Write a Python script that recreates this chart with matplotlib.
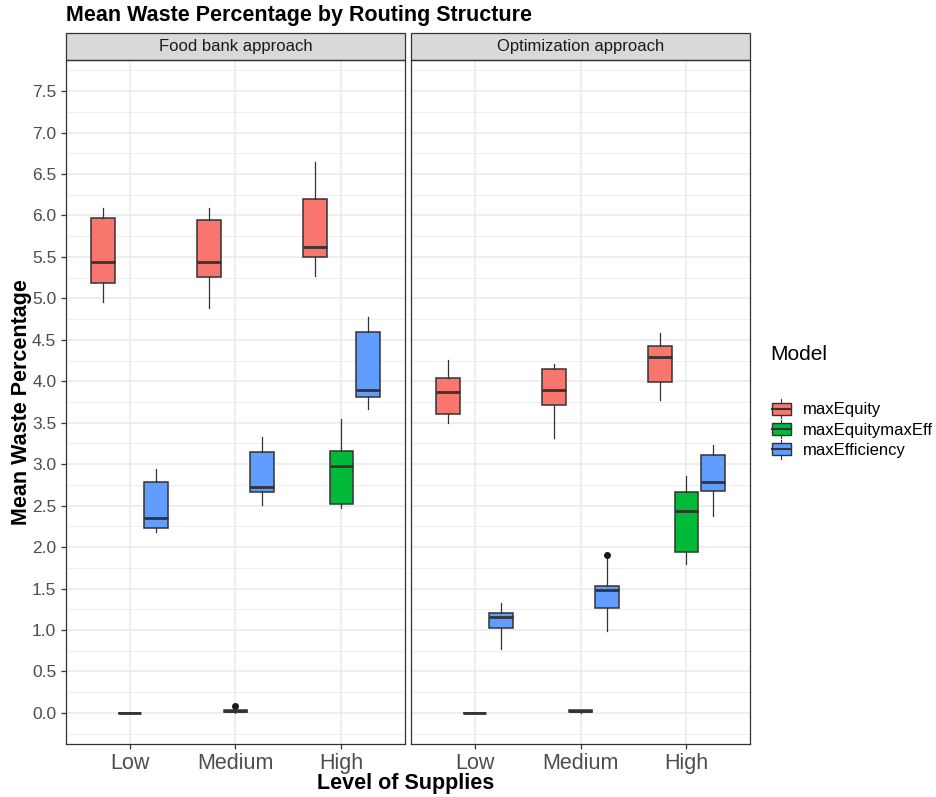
import matplotlib
matplotlib.use("Agg")
import matplotlib.pyplot as plt
import numpy as np
from matplotlib.patches import Rectangle
from matplotlib.lines import Line2D
from matplotlib.legend_handler import HandlerBase

plt.rcParams['font.family'] = ['Liberation Sans', 'DejaVu Sans']

levels = ["Low", "Medium", "High"]
models = ["maxEquity", "maxEquitymaxEff", "maxEfficiency"]
panels = ["Food bank approach", "Optimization approach"]
colors = ["#F8766D", "#00BA38", "#619CFF"]

# box stats per level (Low, Medium, High): whislo, q1, med, q3, whishi
fb_equity = [(4.96, 5.19, 5.44, 5.97, 6.09),
             (4.88, 5.26, 5.44, 5.95, 6.09),
             (5.27, 5.50, 5.62, 6.20, 6.65)]
fb_mixed = [(0.0, 0.0, 0.0, 0.0, 0.0),
            (0.0, 0.015, 0.025, 0.035, 0.045),
            (2.47, 2.52, 2.98, 3.16, 3.54)]
fb_eff = [(2.18, 2.23, 2.35, 2.78, 2.94),
          (2.51, 2.67, 2.73, 3.15, 3.33),
          (3.67, 3.81, 3.90, 4.60, 4.77)]
fb_fliers = [[[], [], []], [[], [0.085], []], [[], [], []]]

opt_equity = [(3.50, 3.60, 3.87, 4.04, 4.26),
              (3.32, 3.71, 3.89, 4.15, 4.21),
              (3.78, 3.99, 4.29, 4.43, 4.58)]
opt_mixed = [(0.0, 0.0, 0.0, 0.0, 0.0),
             (0.0, 0.01, 0.02, 0.03, 0.04),
             (1.80, 1.94, 2.44, 2.66, 2.86)]
opt_eff = [(0.77, 1.02, 1.16, 1.20, 1.33),
           (0.99, 1.27, 1.48, 1.53, 1.88),
           (2.38, 2.68, 2.79, 3.11, 3.23)]
opt_fliers = [[[], [], []], [[], [], []], [[], [1.91], []]]

panel_data = [([fb_equity, fb_mixed, fb_eff], fb_fliers),
              ([opt_equity, opt_mixed, opt_eff], opt_fliers)]

edge = "#333333"
W, H = 937, 797
fig = plt.figure(figsize=(W / 100, H / 100), dpi=100)

lefts = [66, 411]
pw = 339
top, bottom = 60, 744
strip_px = 27

axes = []
for p, (series, fliers) in enumerate(panel_data):
    ax = fig.add_axes([lefts[p] / W, 1 - bottom / H, pw / W, (bottom - top) / H])
    axes.append(ax)
    for m in range(3):
        offset = (m - 1) * 0.25
        stats = []
        for i in range(3):
            lo, q1, med, q3, hi = series[m][i]
            stats.append(dict(whislo=lo, q1=q1, med=med, q3=q3, whishi=hi,
                              fliers=fliers[m][i]))
        pos = np.arange(1, 4) + offset
        ax.bxp(stats, positions=pos, widths=0.225, patch_artist=True,
               showcaps=False, manage_ticks=False,
               boxprops=dict(facecolor=colors[m], edgecolor=edge, linewidth=1.1),
               medianprops=dict(color=edge, linewidth=2.0),
               whiskerprops=dict(color=edge, linewidth=0.9),
               flierprops=dict(marker='o', markerfacecolor='#1a1a1a',
                               markeredgecolor='#1a1a1a', markersize=4))
    ax.set_xlim(0.4, 3.6)
    ax.set_ylim(-0.375, 7.875)
    ax.set_xticks([1, 2, 3])
    ax.set_xticklabels(levels, fontsize=15.5, color="#4D4D4D")
    ax.set_yticks(np.arange(0, 7.51, 0.5))
    ax.set_yticks(np.arange(-0.25, 7.8, 0.5), minor=True)
    ax.set_yticklabels([f"{v:.1f}" for v in np.arange(0, 7.51, 0.5)],
                       fontsize=12.5, color="#4D4D4D")
    ax.grid(True, which='major', color="#EBEBEB", linewidth=1.2)
    ax.grid(True, which='minor', axis='y', color="#EBEBEB", linewidth=0.6)
    ax.set_axisbelow(True)
    ax.tick_params(axis='both', which='major', length=3.5, color=edge, width=0.9)
    ax.tick_params(axis='y', which='minor', length=0)
    ax.tick_params(axis='x', pad=3)
    for s in ax.spines.values():
        s.set_color(edge)
        s.set_linewidth(0.9)
    if p == 1:
        ax.tick_params(axis='y', which='major', length=0, labelleft=False)
    sh = strip_px / (bottom - top)
    ax.add_patch(Rectangle((0, 1), 1, sh, transform=ax.transAxes, clip_on=False,
                           facecolor="#D9D9D9", edgecolor=edge, linewidth=0.9))
    ax.text(0.5, 1 + sh / 2, panels[p], transform=ax.transAxes, ha='center',
            va='center', fontsize=12, color="#1A1A1A")

fig.text(66 / W, 1 - 15 / H, "Mean Waste Percentage by Routing Structure",
         fontsize=15.5, fontweight='bold', va='center', ha='left')
fig.text(406 / W, 1 - 783 / H, "Level of Supplies", fontsize=15.5,
         fontweight='bold', ha='center', va='center')
fig.text(22 / W, 1 - 402 / H, "Mean Waste Percentage", fontsize=15.5,
         fontweight='bold', ha='center', va='center', rotation=90)


class BoxKey(HandlerBase):
    def create_artists(self, legend, orig_handle, xdescent, ydescent,
                       width, height, fontsize, trans):
        x0, y0 = -xdescent, -ydescent
        cx = x0 + width / 2
        whisk = Line2D([cx, cx], [y0 - height * 0.2, y0 + height * 1.2],
                       color=edge, linewidth=0.8, transform=trans)
        box = Rectangle((x0 + width * 0.08, y0 + height * 0.05), width * 0.84,
                        height * 0.9, facecolor=orig_handle.get_facecolor(),
                        edgecolor=edge, linewidth=1.0, transform=trans)
        med = Line2D([x0 + width * 0.08, x0 + width * 0.92],
                     [y0 + height / 2] * 2, color=edge, linewidth=1.5,
                     transform=trans)
        return [whisk, box, med]


handles = [Rectangle((0, 0), 1, 1, facecolor=c) for c in colors]
fig.text(770 / W, 1 - 355 / H, "Model", fontsize=15, va='center', ha='left')
fig.legend(handles, models, handler_map={Rectangle: BoxKey()},
           loc='center left', bbox_to_anchor=(770 / W, 1 - 430 / H),
           frameon=False, fontsize=12, handlelength=1.35, handleheight=0.85,
           handletextpad=0.6, labelspacing=0.3, borderaxespad=0,
           borderpad=0)

fig.savefig("out.png", dpi=100)
